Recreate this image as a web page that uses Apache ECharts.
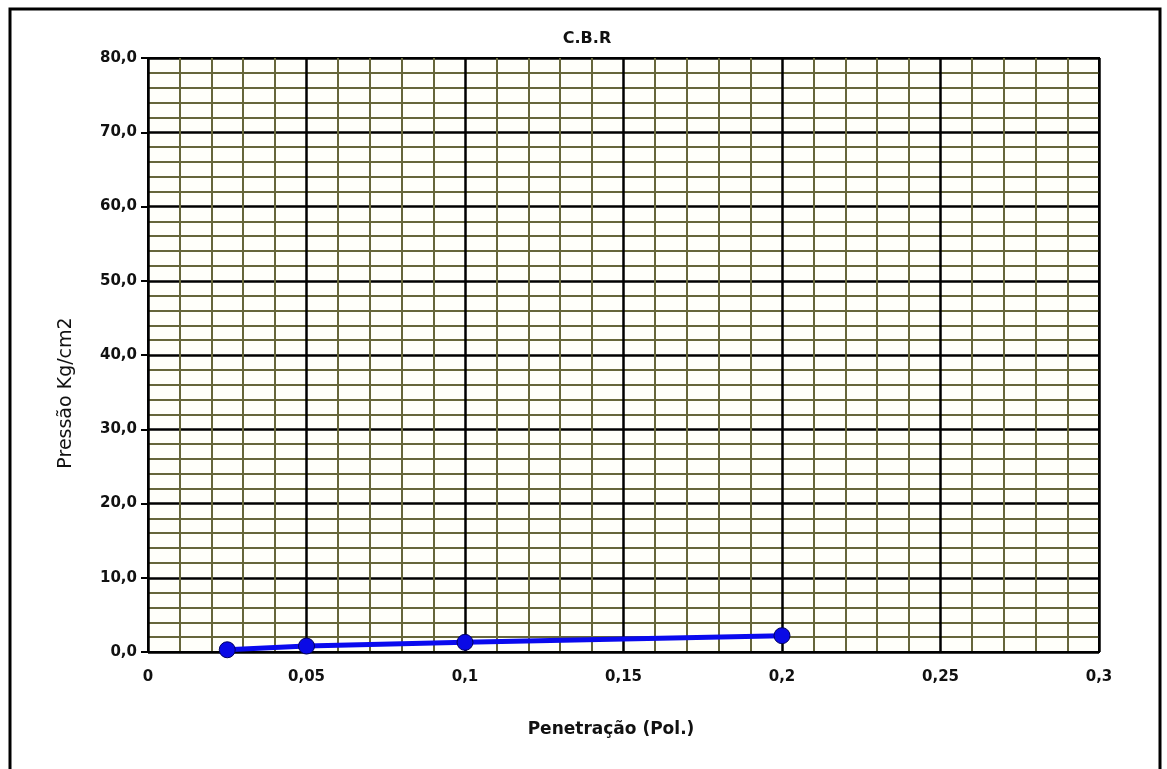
<!DOCTYPE html>
<html>
<head>
<meta charset="utf-8">
<script src="https://cdn.jsdelivr.net/npm/echarts@6/dist/echarts.min.js"></script>
<style>
html,body{margin:0;padding:0;background:#fff;}
#c{width:1167px;height:769px;}
</style>
</head>
<body>
<div id="c"></div>
<script>
// Data
const penetracao = [0.025, 0.05, 0.1, 0.2];
const pressao = [0.3, 0.8, 1.3, 2.2];
const xTickLabels = ['0', '0,05', '0,1', '0,15', '0,2', '0,25', '0,3'];
const yTickLabels = ['0,0', '10,0', '20,0', '30,0', '40,0', '50,0', '60,0', '70,0', '80,0'];
const titleText = 'C.B.R';
const xName = 'Penetração (Pol.)';
const yName = 'Pressão Kg/cm2';

const chart = echarts.init(document.getElementById('c'), null, {renderer: 'canvas'});
const tickFont = {fontFamily: 'DejaVu Sans', fontWeight: 'bold', fontSize: 15, color: '#111'};

chart.setOption({
  animation: false,
  backgroundColor: '#ffffff',
  title: {
    text: titleText,
    left: 582, top: 26, textAlign: 'center',
    textStyle: {fontFamily: 'DejaVu Sans', fontWeight: 'bold', fontSize: 16, color: '#111'}
  },
  grid: {
    left: 148, right: 68, top: 58, bottom: 117,
    show: true, backgroundColor: '#fffffa', borderColor: '#000', borderWidth: 2,
    outerBoundsMode: 'none'
  },
  xAxis: {
    type: 'value', min: 0, max: 0.3, interval: 0.05,
    name: xName, nameLocation: 'middle', nameGap: 69,
    nameTextStyle: {fontFamily: 'DejaVu Sans', fontWeight: 'bold', fontSize: 17, color: '#111', padding: [0, 25, 0, 0]},
    axisLine: {show: true, lineStyle: {color: '#000', width: 2}},
    axisTick: {show: false},
    axisLabel: Object.assign({margin: 18, formatter: v => xTickLabels[Math.round(v / 0.05)]}, tickFont),
    splitLine: {show: true, lineStyle: {color: '#000', width: 2.5}},
    minorTick: {show: false, splitNumber: 5},
    minorSplitLine: {show: true, lineStyle: {color: '#66663a', width: 2}}
  },
  yAxis: {
    type: 'value', min: 0, max: 80, interval: 10,
    axisLine: {show: true, lineStyle: {color: '#000', width: 2}},
    axisTick: {show: true, length: 7, inside: false, lineStyle: {color: '#000', width: 2}},
    axisLabel: Object.assign({margin: 11, formatter: v => yTickLabels[Math.round(v / 10)]}, tickFont),
    splitLine: {show: true, lineStyle: {color: '#000', width: 2.5}},
    minorTick: {show: false, splitNumber: 5},
    minorSplitLine: {show: true, lineStyle: {color: '#66663a', width: 2}}
  },
  graphic: [
    {type: 'rect', z: 100, shape: {x: 10, y: 9, width: 1150, height: 800},
     style: {fill: 'none', stroke: '#000', lineWidth: 3}},
    {type: 'text', z: 100, x: 66, y: 393, rotation: Math.PI / 2,
     style: {text: yName, fontFamily: 'DejaVu Sans', fontSize: 19, fill: '#111', textAlign: 'center', textVerticalAlign: 'middle'}}
  ],
  series: [{
    type: 'line',
    data: penetracao.map((x, i) => [x, pressao[i]]),
    symbol: 'circle', symbolSize: 16,
    lineStyle: {color: '#0a0aee', width: 5},
    itemStyle: {color: '#0a0ae6', borderColor: '#000060', borderWidth: 1},
    z: 10
  }]
});
</script>
</body>
</html>
